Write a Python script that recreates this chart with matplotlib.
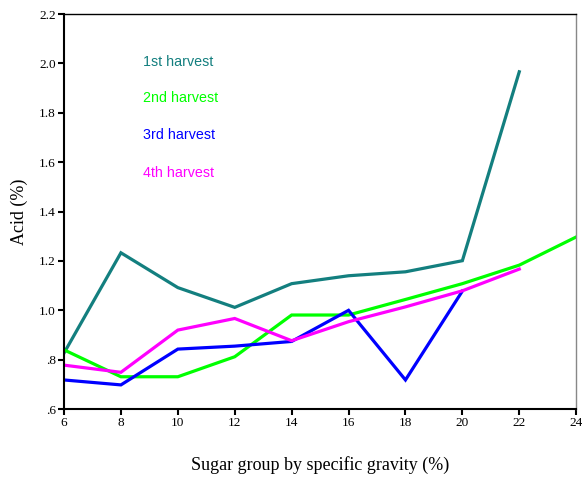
import matplotlib
matplotlib.use("Agg")
import matplotlib.pyplot as plt

x = [6, 8, 10, 12, 14, 16, 18, 20, 22, 24]
harvest1 = [0.827, 1.233, 1.092, 1.012, 1.108, 1.140, 1.156, 1.201, 1.966]
harvest2 = [0.840, 0.731, 0.731, 0.812, 0.981, 0.981, 1.044, 1.108, 1.183, 1.297]
harvest3 = [0.718, 0.698, 0.843, 0.855, 0.874, 1.000, 0.718, 1.078]
harvest4 = [0.778, 0.749, 0.920, 0.967, 0.877, 0.954, 1.014, 1.079, 1.167]
labels = ["1st harvest", "2nd harvest", "3rd harvest", "4th harvest"]
colors = ["#137f7f", "#00ff00", "#0000ff", "#ff00ff"]
yticks = [0.6, 0.8, 1.0, 1.2, 1.4, 1.6, 1.8, 2.0, 2.2]
yticklabels = [".6", ".8", "1.0", "1.2", "1.4", "1.6", "1.8", "2.0", "2.2"]
xticks = [6, 8, 10, 12, 14, 16, 18, 20, 22, 24]

fig = plt.figure(figsize=(5.82, 4.83), dpi=100)
ax = fig.add_axes([0.110, 0.153, 0.880, 0.818])

series = [harvest1, harvest2, harvest3, harvest4]
for s, c in zip(series, colors):
    ax.plot(x[:len(s)], s, color=c, lw=2.3, solid_joinstyle="miter")

ax.set_xlim(6, 24)
ax.set_ylim(0.6, 2.2)
ax.set_xticks(xticks)
ax.set_xticklabels([str(v) for v in xticks], fontfamily="Liberation Serif", fontsize=9.5)
ax.set_yticks(yticks)
ax.set_yticklabels(yticklabels, fontfamily="Liberation Serif", fontsize=9.5)
ax.tick_params(direction="out", length=4, width=1.5, top=False, right=False, pad=2)
for side in ["left", "bottom"]:
    ax.spines[side].set_linewidth(1.5)
ax.spines["top"].set_linewidth(1.0)
ax.spines["right"].set_linewidth(1.0)
ax.spines["right"].set_color("#888888")

ax.set_ylabel("Acid (%)", fontfamily="Liberation Serif", fontsize=13, labelpad=8)
ax.set_xlabel("Sugar group by specific gravity (%)", fontfamily="Liberation Serif", fontsize=13, labelpad=19)

label_y = [2.006, 1.860, 1.710, 1.556]
for lab, c, yy in zip(labels, colors, label_y):
    ax.text(8.78, yy, lab, color=c, fontfamily="Liberation Sans", fontsize=10.3, ha="left", va="center")

fig.savefig("out.png", dpi=100)
